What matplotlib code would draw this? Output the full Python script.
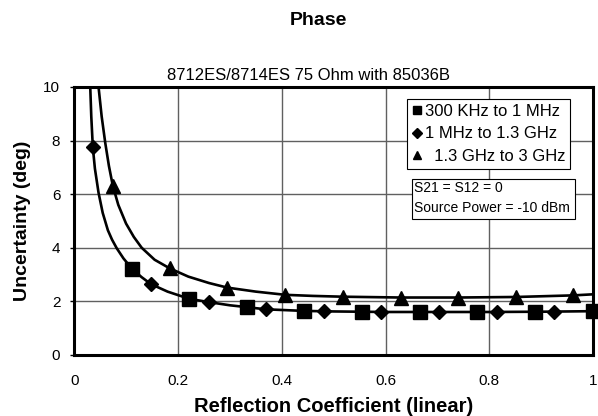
import numpy as np
import matplotlib.pyplot as plt
from matplotlib.lines import Line2D
from matplotlib.patches import Rectangle

plt.rcParams['font.family'] = ['Liberation Sans', 'DejaVu Sans']

# marker points
sq_x = [0.112, 0.222, 0.333, 0.443, 0.555, 0.666, 0.777, 0.888, 1.0]
sq_y = [3.2, 2.09, 1.78, 1.64, 1.6, 1.6, 1.6, 1.6, 1.62]
dm_x = [0.036, 0.148, 0.259, 0.369, 0.481, 0.592, 0.703, 0.814, 0.925]
dm_y = [7.74, 2.64, 1.97, 1.7, 1.63, 1.6, 1.6, 1.6, 1.61]
tr_x = [0.0745, 0.184, 0.295, 0.407, 0.518, 0.629, 0.740, 0.851, 0.962]
tr_y = [6.31, 3.23, 2.51, 2.24, 2.17, 2.14, 2.14, 2.16, 2.22]

# fitted curves
low_x = [0.031, 0.033, 0.036, 0.040, 0.047, 0.055, 0.065, 0.073, 0.082, 0.095,
         0.112, 0.13, 0.148, 0.18, 0.222, 0.259, 0.3, 0.333, 0.369, 0.443,
         0.5, 0.6, 0.7, 0.8, 0.9, 1.0]
low_y = [10.0, 8.9, 7.74, 6.95, 6.05, 5.3, 4.65, 4.3, 3.98, 3.6,
         3.2, 2.9, 2.64, 2.36, 2.09, 1.97, 1.85, 1.78, 1.7, 1.64,
         1.62, 1.6, 1.6, 1.6, 1.61, 1.63]
up_x = [0.047, 0.053, 0.06, 0.067, 0.0745, 0.085, 0.1, 0.115, 0.13, 0.155,
        0.184, 0.22, 0.26, 0.295, 0.35, 0.407, 0.46, 0.518, 0.629, 0.74,
        0.851, 0.962, 1.0]
up_y = [10.0, 8.9, 7.9, 7.05, 6.31, 5.6, 4.9, 4.4, 4.0, 3.55,
        3.23, 2.92, 2.68, 2.51, 2.36, 2.24, 2.2, 2.17, 2.14, 2.14,
        2.16, 2.22, 2.26]

labels = ['300 KHz to 1 MHz', '1 MHz to 1.3 GHz', '  1.3 GHz to 3 GHz']
x_ticks = [0, 0.2, 0.4, 0.6, 0.8, 1.0]
x_tick_labels = ['0', '0.2', '0.4', '0.6', '0.8', '1']
y_ticks = [0, 2, 4, 6, 8, 10]

fig = plt.figure(figsize=(5.98, 4.16), dpi=100)
ax = fig.add_axes([0.124, 0.147, 0.868, 0.644])

ax.plot(low_x, low_y, color='black', lw=1.9, zorder=3)
ax.plot(up_x, up_y, color='black', lw=1.9, zorder=3)
ax.plot(sq_x, sq_y, 's', color='black', ms=9.5, zorder=4, clip_on=False)
ax.plot(dm_x, dm_y, 'D', color='black', ms=7, zorder=4, clip_on=False)
ax.plot(tr_x, tr_y, '^', color='black', ms=10, zorder=4, clip_on=False)

ax.set_xlim(0, 1)
ax.set_ylim(0, 10)
ax.set_xticks(x_ticks)
ax.set_xticklabels(x_tick_labels)
ax.set_yticks(y_ticks)
ax.tick_params(axis='both', labelsize=11, length=3, width=1, direction='out')
ax.tick_params(axis='x', length=0, pad=14)
ax.tick_params(axis='y', pad=7)
ax.grid(True, color='#606060', lw=1)
ax.set_axisbelow(True)
for s in ax.spines.values():
    s.set_linewidth(2.2)
    s.set_zorder(5)

ax.set_xlabel('Reflection Coefficient (linear)', fontsize=14.5, fontweight='bold', labelpad=6)
ax.set_ylabel('Uncertainty (deg)', fontsize=14, fontweight='bold', labelpad=9)

fig.text(0.533, 0.951, 'Phase', ha='center', va='center', fontsize=14,
         fontweight='bold', family=['Liberation Sans Narrow', 'Liberation Sans'])
fig.text(0.516, 0.818, '8712ES/8714ES 75 Ohm with 85036B', ha='center',
         va='center', fontsize=12)

handles = [Line2D([], [], marker='s', ls='none', color='black', ms=6),
           Line2D([], [], marker='D', ls='none', color='black', ms=5),
           Line2D([], [], marker='^', ls='none', color='black', ms=6)]
leg = ax.legend(handles, labels, loc='upper left', bbox_to_anchor=(0.642, 0.955),
                borderaxespad=0, fontsize=12, handlelength=0.6, handletextpad=0.15,
                labelspacing=0.45, borderpad=0.3, fancybox=False, framealpha=1,
                edgecolor='black')
leg.get_frame().set_linewidth(0.8)
leg.set_zorder(6)

ax.add_patch(Rectangle((0.651, 0.507), 0.314, 0.15, transform=ax.transAxes,
                       facecolor='white', edgecolor='black', lw=0.8, zorder=6))
ax.text(0.655, 0.623, 'S21 = S12 = 0', transform=ax.transAxes, fontsize=10,
        va='center', zorder=7)
ax.text(0.655, 0.549, 'Source Power = -10 dBm', transform=ax.transAxes, fontsize=10,
        va='center', zorder=7)

fig.savefig('out.png', dpi=100)
